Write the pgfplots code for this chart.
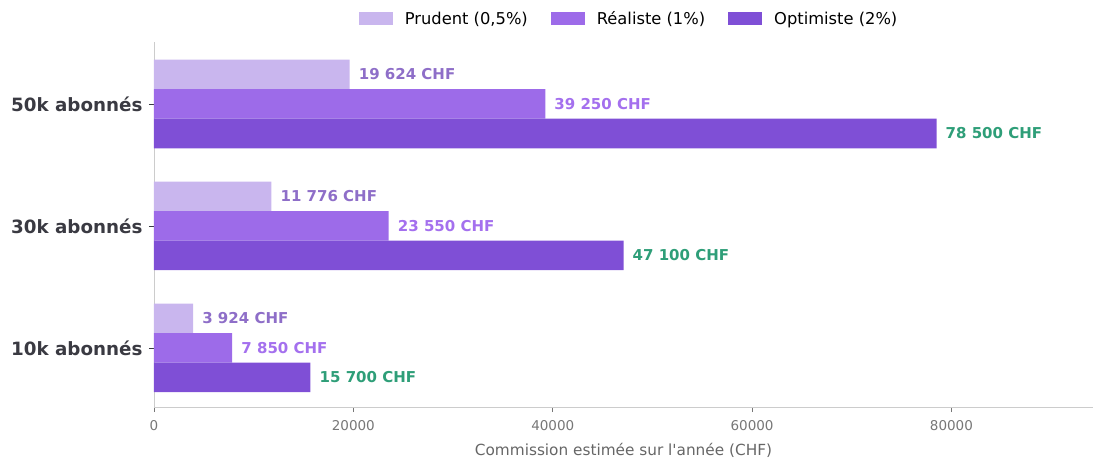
\documentclass[border=0pt]{standalone}
\usepackage{fontspec}
\setmainfont{DejaVu Sans}
\usepackage{pgfplots}
\pgfplotsset{compat=1.18}
\definecolor{cPru}{HTML}{C9B6EE}
\definecolor{cRea}{HTML}{9D6BE9}
\definecolor{cOpt}{HTML}{7F4FD6}
\definecolor{lPru}{HTML}{8E6EC8}
\definecolor{lRea}{HTML}{A470EE}
\definecolor{lOpt}{HTML}{2E9E78}
\definecolor{spine}{HTML}{CCCCCC}
\definecolor{ylab}{HTML}{3A3A42}
\definecolor{xtl}{HTML}{777777}
\definecolor{xlab}{HTML}{666666}
\begin{document}
\begin{tikzpicture}
\path (-154pt,-52pt) rectangle (941pt,407pt);
\begin{axis}[
  scale only axis, width=939pt, height=365pt,
  xbar, bar width=0.242,
  xmin=0, xmax=94200, ymin=-0.484, ymax=2.508,
  ytick={0,1,2}, yticklabels={10k abonnés,30k abonnés,50k abonnés},
  xtick={0,20000,40000,60000,80000},
  scaled x ticks=false,
  xticklabel={\pgfmathprintnumber[1000 sep={},assume math mode=true]{\tick}},
  xticklabel style={font=\fontsize{13.5}{15}\selectfont, text=xtl, yshift=-5pt},
  yticklabel style={font=\bfseries\fontsize{18.3}{20}\selectfont, text=ylab, xshift=-3pt},
  axis x line*=bottom, axis y line*=left,
  axis line style={spine, -, line width=0.9pt},
  tick align=outside, major tick length=5pt,
  x tick style={xtl, line width=0.8pt},
  y tick style={ylab, line width=0.8pt},
  xlabel={Commission estimée sur l\textquotesingle année (CHF)},
  xlabel style={font=\fontsize{15.3}{18}\selectfont, text=xlab, at={(axis description cs:0.5,0)}, anchor=center, yshift=-43pt},
  point meta=explicit symbolic,
  nodes near coords,
  nodes near coords style={font=\bfseries\fontsize{15}{18}\selectfont, anchor=west, inner sep=0pt, xshift=9pt},
  legend columns=3,
  legend style={draw=none, fill=none, at={(axis description cs:0.506,1)}, anchor=center, yshift=23pt,
    font=\fontsize{16.3}{19}\selectfont,
    /tikz/every odd column/.append style={column sep=10pt},
    /tikz/every even column/.append style={column sep=21pt}},
  legend image code/.code={\fill[#1] (0pt,-6.5pt) rectangle (34pt,6.5pt);},
]
\addplot[fill=cPru, draw=none, bar shift=0.242, every node near coord/.append style={text=lPru}]
  coordinates {(3924,0) [3 924 CHF] (11776,1) [11 776 CHF] (19624,2) [19 624 CHF]};
\addplot[fill=cRea, draw=none, bar shift=0, every node near coord/.append style={text=lRea}]
  coordinates {(7850,0) [7 850 CHF] (23550,1) [23 550 CHF] (39250,2) [39 250 CHF]};
\addplot[fill=cOpt, draw=none, bar shift=-0.242, every node near coord/.append style={text=lOpt}]
  coordinates {(15700,0) [15 700 CHF] (47100,1) [47 100 CHF] (78500,2) [78 500 CHF]};
\legend{{Prudent (0,5\%)}, {Réaliste (1\%)}, {Optimiste (2\%)}}
\end{axis}
\end{tikzpicture}
\end{document}
